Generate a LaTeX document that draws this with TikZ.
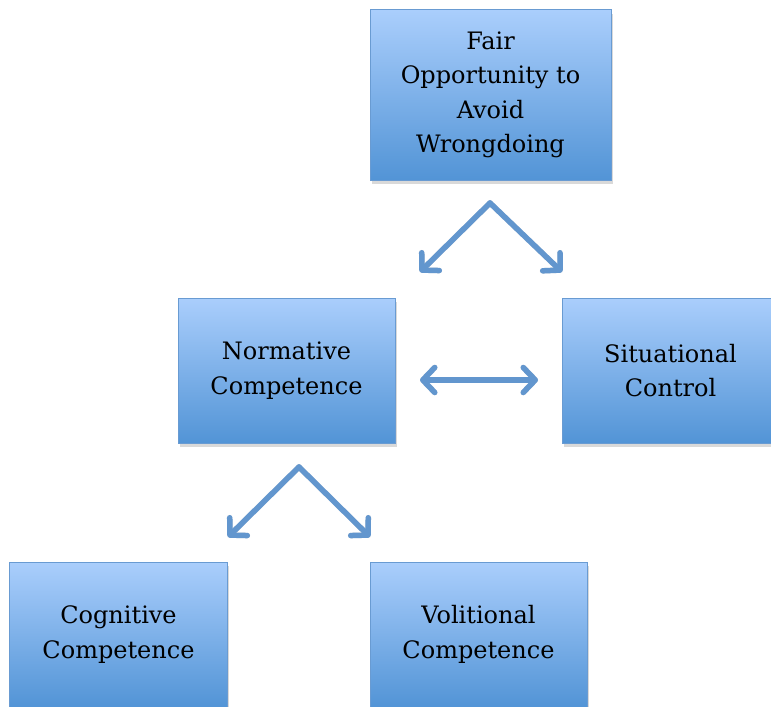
\documentclass[tikz,border=0pt]{standalone}
\usepackage{fontspec}
\setmainfont{DejaVu Serif}
\usetikzlibrary{arrows.meta,shadows}
\definecolor{boxtop}{RGB}{170,206,252}
\definecolor{boxbot}{RGB}{82,148,214}
\definecolor{boxline}{RGB}{105,155,210}
\definecolor{arrowblue}{RGB}{98,150,206}
\tikzset{
  box/.style={draw=boxline, line width=1bp, top color=boxtop, bottom color=boxbot,
    minimum width=217bp, minimum height=145bp, align=center, inner sep=0pt,
    font=\fontsize{24bp}{34.5bp}\selectfont,
    drop shadow={shadow xshift=2bp, shadow yshift=-4bp, opacity=0.3}},
  barb/.tip={Straight Barb[length=12bp,width=25bp,round]},
  conn/.style={draw=arrowblue, line width=5.5bp, line cap=round, line join=round},
  connshade/.style={draw=black, opacity=0.15, line width=5.5bp, line cap=round, line join=round, shift={(2bp,-3bp)}},
}
\begin{document}
\begin{tikzpicture}[x=1bp,y=-1bp]
\useasboundingbox (0,0) rectangle (771,707);
\clip (0,0) rectangle (771,707);
\node[box, minimum width=241bp, minimum height=170bp] (fair) at (490.5,95) {Fair\\Opportunity to\\Avoid\\Wrongdoing};
\node[box] (norm) at (286.5,370.5) {Normative\\Competence};
\node[box] (sit) at (670.5,370.5) {Situational\\Control};
\node[box] (cog) at (118.5,634.5) {Cognitive\\Competence};
\node[box] (vol) at (478.5,634.5) {Volitional\\Competence};
\coordinate (p1) at (490,203);
\coordinate (p1l) at (420,272);
\coordinate (p1r) at (562,272);
\coordinate (h1) at (420,380);
\coordinate (h2) at (538,380);
\coordinate (p2) at (299,467);
\coordinate (p2l) at (228,537);
\coordinate (p2r) at (370,537);
\draw[connshade, -barb] (p1) -- (p1l);
\draw[connshade, -barb] (p1) -- (p1r);
\draw[connshade, barb-barb] (h1) -- (h2);
\draw[connshade, -barb] (p2) -- (p2l);
\draw[connshade, -barb] (p2) -- (p2r);
\draw[conn, -barb] (p1) -- (p1l);
\draw[conn, -barb] (p1) -- (p1r);
\draw[conn, barb-barb] (h1) -- (h2);
\draw[conn, -barb] (p2) -- (p2l);
\draw[conn, -barb] (p2) -- (p2r);
\end{tikzpicture}
\end{document}
